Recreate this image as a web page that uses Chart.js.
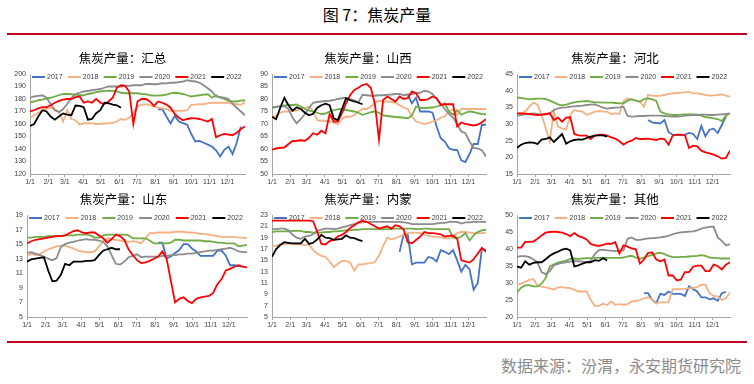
<!DOCTYPE html>
<html>
<head>
<meta charset="utf-8">
<script src="https://cdn.jsdelivr.net/npm/chart.js@4.4.0/dist/chart.umd.min.js"></script>
<style>
  body { margin: 0; width: 754px; height: 384px; background: #fff; position: relative; overflow: hidden; font-family: "Noto Sans CJK SC", sans-serif; }
  #heading { position: absolute; top: 2px; left: 0; width: 754px; text-align: center; font-size: 16px; font-weight: normal; color: #000; }
  .rule { position: absolute; left: 7px; width: 740px; height: 2px; background: #c00020; }
  .panel { position: absolute; }
  #source { position: absolute; right: 13px; top: 353px; font-size: 16px; color: #8c8c8c; }
</style>
</head>
<body>
<div id="heading">图 7：焦炭产量</div>
<div class="rule" style="top:33px"></div>
<canvas id="c1" class="panel" width="250" height="144" style="left:0;top:44px"></canvas>
<canvas id="c2" class="panel" width="250" height="144" style="left:250px;top:44px"></canvas>
<canvas id="c3" class="panel" width="254" height="144" style="left:500px;top:44px"></canvas>
<canvas id="c4" class="panel" width="250" height="145" style="left:0;top:186px"></canvas>
<canvas id="c5" class="panel" width="250" height="145" style="left:250px;top:186px"></canvas>
<canvas id="c6" class="panel" width="254" height="145" style="left:500px;top:186px"></canvas>
<div class="rule" style="top:341px"></div>
<div id="source">数据来源：汾渭，永安期货研究院</div>
<script>
// x axis: weekly points, ticks on the first day of each month
const monthStarts = [0, 31, 59, 90, 120, 151, 181, 212, 243, 273, 304, 334];
const monthLabels = ['1/1', '2/1', '3/1', '4/1', '5/1', '6/1', '7/1', '8/1', '9/1', '10/1', '11/1', '12/1'];
const years = ['2017', '2018', '2019', '2020', '2021', '2022'];
const N = null;

// 汇总
const total2017 = [N,N,N,N,N,N,N,N,N,N,N,N,N,N,N,N,N,N,N,N,N,N,N,N,N,N,N,N,N,N,N,
  171.8,172,166,160.5,166.5,162,160.7,159.5,152,146,146.5,145,143.5,142,139,134,139.4,142,136,145,158,N];
const total2018 = [165,167,169,171,172,173,172,170,162,171,164,163,159.5,160.5,160.7,160.5,160,160,160.4,160.5,
  161,162,164,163.3,165,168.6,174,175.3,175.8,175,174,173,172.6,172,170.5,170.5,170.5,170.5,171,175.3,
  175.5,175.8,176,176.5,177,177,177,177,177,176,175.8,175.3,177.4];
const total2019 = [177.4,178,179,179.5,180.5,181,182,183,184,184,183.8,183.5,183,183,184,184.6,185.5,186,186.5,186.7,
  186.5,186,185,184.6,184.6,184.6,184.6,184,183.8,183,182.7,182.7,183,183.5,184.5,185,184.6,184,183,182,
  182.5,183,183.5,183.8,181,183,181,180,178.5,178,178,178.7,179];
const total2020 = [181,182,182.5,183,181,176,171,169.5,172,176,181,184,185,186,186.5,187,187.5,188,189,190,
  190,190,190,190.5,190.5,191,191,191,192,192,191.8,192,192.6,192.5,193,193,193.5,194,195,194.4,
  194,193,191,188.6,186,182,181.5,181,180,176,173,170,167];
const total2021 = [170,171,172.5,173.5,173.4,175,177,178.5,179.5,180,180,181.5,182,177,178,177,180,177,176,178,
  181,189,191,190.5,186,160,178,180,180,178,174.5,178,177,175.5,173,168,165,163,164,164.6,
  164.5,164,163,162,164,149.5,151,152,151.5,151,153,156,158];
const total2022 = [158.5,160,166,171,170,166,163.5,166,168.5,167.5,167,174.8,174.5,173.4,163.5,164,168.6,171,177,176.6,
  175.5,175,173];

// 山西
const shanxi2017 = [N,N,N,N,N,N,N,N,N,N,N,N,N,N,N,N,N,N,N,N,N,N,N,N,N,N,N,N,N,N,N,N,N,
  81.5,78.3,80.5,75,75,75,74.5,69,64.3,63,60.3,59.7,59.6,55.5,54.8,58,62,62,69.7,69.7];
const shanxi2018 = [72,73.5,74.5,75,75,75.2,75.5,76,76.5,77,75,71.5,71.3,71.3,71,70.5,69.9,72,72.9,72.9,
  73.5,75,76,76,77,78.5,79.3,79,79,78.8,78.5,77.5,76.5,76,73,71,70.5,70,70.3,71,
  71.5,72.5,73,75,76,73.6,76,76,76,76,76,76,76];
const shanxi2019 = [76.3,76.8,77.2,77.4,77.6,77.6,77.8,77,76,75.3,75,74.5,74,74.2,75,75.5,75.9,75.9,75.6,75.3,
  75,74.5,73.7,74.2,74.7,75,74.5,73.4,73.2,73,72.8,72.7,72.5,72.3,73.4,77,76.5,76.3,76.5,76.6,
  77,77.4,78.3,75,73.7,75.6,73.7,74.5,75,74.8,74.3,74,73.9];
const shanxi2020 = [76.7,76.9,77,77.2,76,72.5,70.3,72,74,76.5,78.5,78.8,79,79.2,79.3,79.6,80,80.3,80.5,80,
  79.5,78.7,81.7,81.5,81.3,81.3,81.5,81.5,81.7,81.8,82,82,81.5,81.8,82,82.3,82.5,83.3,83,82,
  80,78.3,76,74,72.5,70,67,66.3,63,60.4,60.2,59.5,57];
const shanxi2021 = [59.7,60.2,60.5,60.6,62,63.2,63.3,63.5,63.3,64.5,66.3,65.7,67.3,66.3,74,71,71,74.3,78.3,81.6,
  83.6,84.5,85.6,86,84.5,78,63.8,79.6,81,80,79,81,80,80.3,83,82.3,79.6,79.6,80,81,
  80.3,77.6,77.9,77.9,77.9,69,70.6,70,69.7,69.4,69.7,70.7,71.9];
const shanxi2022 = [72.9,71.9,76.5,80.5,77.5,75.3,76.7,76,74.5,73.5,74.1,76.5,77.5,78.1,77.5,72.3,71.6,76,80.3,79.5,
  79,78.5,77.9];

// 河北
const hebei2017 = [N,N,N,N,N,N,N,N,N,N,N,N,N,N,N,N,N,N,N,N,N,N,N,N,N,N,N,N,N,N,N,N,
  31.2,30.5,30.3,30.2,31.2,27.6,26.8,26.7,26.7,26.8,27.3,27,25.5,29.4,26.3,28.3,28.6,27.3,29.7,32.2,N];
const hebei2018 = [33.2,33.2,33.7,35.2,36.4,35.8,32.7,28.7,24.8,33.9,29.2,28.7,28.3,32.7,34.2,33.9,33.7,32.7,33.2,33.7,
  33.9,33.7,33.7,32.9,33.2,33,36.9,37.7,37.5,37,36.7,35.2,38.7,38.5,38.4,38.5,38.7,39,39.2,39.3,
  39.4,39.5,39.7,39.2,39.2,39,38.7,38.5,38.6,38.7,38.9,38.5,38.2];
const hebei2019 = [38,37.8,37.6,37.4,37.5,37.6,37.6,37.5,37,36.5,35.9,35.6,35.8,36.2,36.5,36.7,36.8,36.9,36.7,36.5,
  36.5,36.4,36.4,36.4,36.3,36.2,36.2,37,37.4,37,36.7,37.5,37.7,37.4,36.9,33.7,33.2,32.9,32.7,32.7,
  32.8,32.9,32.9,32.9,32.8,32.5,32.1,31.9,31.7,31.5,30.9,32.5,33.2];
const hebei2020 = [32.5,32.7,32.9,33,33.2,33,32.8,32.8,33.2,34.2,34.7,34.9,35,35.2,35.3,35.4,35.5,35.7,35.8,35.9,
  35.4,34.9,34.6,34.8,34.9,35,35.2,32.4,32.2,32.3,32.4,32.4,32.5,32.5,32.5,32.5,32.4,32.3,32.2,32.2,
  32.3,32.5,32.6,32.7,32.7,32.8,32.8,32.7,32.7,32.8,32.9,33,33.2];
const hebei2021 = [33.2,33.2,33.1,33,32.8,32.7,32.8,33,33.2,31.2,31.9,30.7,31.9,32,27,26.6,26.5,26.5,25.5,26.5,
  26.8,26.8,26.5,26,25.6,24.8,23.8,24.6,25,25.8,25.5,25.5,25.6,25.4,25.2,25.6,25.5,23.8,26.5,26.8,
  26.8,26.6,22.8,23.5,23.3,22,21.5,21.2,20.8,20.3,19.6,19.8,22];
const hebei2022 = [22.8,23.8,24.3,24.5,24.4,24,25.3,25.5,26,24.6,25.8,27,24.1,24.8,25.2,25.4,25.3,25.8,26.2,26.5,
  26.6,26.6,26.2];

// 山东
const shandong2017 = [N,N,N,N,N,N,N,N,N,N,N,N,N,N,N,N,N,N,N,N,N,N,N,N,N,N,N,N,N,N,N,
  15.2,15.2,13.1,13.3,13.8,14.2,15,15,14.4,14,13.4,13.4,13.4,13.4,14.1,14.1,13.4,12.1,12.1,12,11.9,N];
const shandong2018 = [13.3,13.7,13.5,13.6,14,14.3,14.5,14.7,14.8,14.8,14.6,14.4,14.1,14,13.9,13.9,14,14.7,15.4,15.8,
  15.7,15.6,15.5,15.4,15.3,15.4,15.3,15.1,15.8,16.5,16.5,16.6,16.6,16.6,16.6,16.7,16.7,16.7,16.6,16.6,
  16.5,16.4,16.4,16.3,16.2,16.1,16,16,16,16,15.9,15.9,15.8];
const shandong2019 = [15.9,15.9,16,16,16,16.1,16.1,16.1,16.1,16.2,16.2,16.2,16.3,16.3,16.3,16.2,15.9,15.9,16.2,16.3,
  16.3,16.3,16.3,16.3,16.2,15.8,15.8,15.8,15.8,15.5,15.1,15.1,15.1,15.1,15.2,15.6,15.6,15.5,15.5,15.5,
  15.5,15.5,15.4,15.4,15.3,15.2,15.2,15.1,15.1,15.1,14.7,14.8,14.9];
const shandong2020 = [13.8,13.9,13.7,13.5,13.3,13,12.8,13.1,14.6,15,15.2,15.3,15.5,15.6,15.7,15.6,15.6,15.5,15.3,14.7,
  13.5,12.3,12.2,12.6,13.2,13.4,13.6,13.2,13.3,13.3,13.3,13.3,13.4,13.4,13.5,13.5,13.6,13.6,13.7,13.7,
  13.8,13.9,14,14.1,14.1,14.2,14.3,14.4,14.5,14.3,14,13.9,13.9];
const shandong2021 = [15.1,15.4,15.6,15.7,15.8,15.9,16,16.1,16.1,16.2,16.5,16.8,16.9,16.6,16.5,16.6,16.6,16.2,15.8,15.2,
  15.7,16.3,16.1,15.6,14.3,13.5,12.8,12.4,12.5,12.7,13,13.3,14,13,10,7,7.5,7.7,7.2,6.9,
  7.5,7.7,7.8,7.9,8.3,9.5,10.2,11.4,11.6,11.9,12.1,11.9,11.8];
const shandong2022 = [12.6,12.9,13,13.1,13.2,11.4,9.9,10,10.8,12.3,12.1,12.6,12.6,12.6,12.7,12.7,12.8,13.5,14.1,14.3,
  14.5,14.3,14.3];

// 内蒙
const neimeng2017 = [N,N,N,N,N,N,N,N,N,N,N,N,N,N,N,N,N,N,N,N,N,N,N,N,N,N,N,N,N,N,N,
  16.5,19.6,19.5,14.3,14.6,14.6,14.6,15.6,15.4,14.8,16.8,16.5,16.1,16.8,15,13,14.2,13.4,9.8,11,17.1,16.8];
const neimeng2018 = [17.5,17.6,17.8,17.9,17.9,17.9,17.8,17.8,17.7,17.8,16.8,16.2,15.8,15.6,14.8,13.8,14.4,14.9,14.9,14.6,
  13.2,14.3,14.3,14.4,14.5,14.7,15.8,17.5,19,18.7,18.9,19.2,19.5,19.8,19.9,19.9,19.8,19.6,19.3,19.2,
  19.2,19.1,18.9,18.9,19.2,19.8,20,20,19.9,19.8,19.8,19.8,19.9];
const neimeng2019 = [20,20.1,20.1,20.1,20.1,20.2,20.2,20.2,20,20,19.9,19.9,19.9,20,20,20.1,20.1,20.2,20.3,20.3,
  20.4,20.4,20.5,20.5,20.5,20.5,20.5,20.5,20.5,20.5,20.6,20.6,20.6,20.6,20.6,20.5,20.5,20.6,20.6,20.5,
  20.5,20.5,20.5,20.5,19,18.9,19.2,19.8,18.5,19.4,20,20.3,20.4];
const neimeng2020 = [20.5,20.5,20.6,20.6,20.3,19.5,19,18.8,19.2,19.3,19.6,20.2,20.4,20.6,20.6,20.5,20.6,20.8,21,21.2,
  21.4,21.6,21.7,21.8,21.8,21.8,21.8,21.8,21.8,21.8,21.8,21.8,21.7,21.6,21.4,21.4,21.4,21.4,21.4,21.4,
  21.5,21.6,21.6,21.8,21.8,21.8,21.5,21.7,21.7,21.8,21.8,21.8,21.8];
const neimeng2021 = [22,22,22,22,22,22,22,22,22,22,21.9,20,17.9,17.8,18.4,18.6,19.2,19.5,20,20.7,
  21.2,21.7,22,21.8,21.4,21,20.6,20.8,21,20.6,21.2,21,20.4,18.2,18,18.6,19.2,20,19.8,19.8,
  19.7,19.6,19.2,19.3,19.4,18.8,15,14.8,14.6,15.2,16.2,17.2,16.5];
const neimeng2022 = [15.6,17,17.7,18.2,18.1,18,18,18,18.8,17.9,18.1,18.7,19.5,19,18.9,18.6,18.7,18.8,19.4,19,
  18.9,18.6,18.4];

// 其他
const other2017 = [N,N,N,N,N,N,N,N,N,N,N,N,N,N,N,N,N,N,N,N,N,N,N,N,N,N,N,N,N,N,N,
  27,27,25,24.1,26.8,26.5,27.5,26.8,26.8,26.8,26.2,29,28.2,27.5,25.8,25.8,25.2,25.5,24.8,27,27.4,N];
const other2018 = [29.6,29.8,30.3,30.9,31.2,29.3,28.9,28.7,28.4,28.1,28.7,28.8,28.6,28.5,28,27.5,27.5,27.5,25,23.3,
  23.3,23.9,23.5,24.6,23.6,23.8,23.6,23.8,24.6,24.7,25,25.5,25.8,25.2,24.1,24.3,24.3,24.3,28.2,28.2,
  28.2,28.3,28.5,28.5,28.8,29.5,29.5,27,26.2,26,25,25.5,27.2];
const other2019 = [27.2,28.6,29.3,29.4,29,29,29.8,31.5,34.8,35.5,36,36.3,36.6,37.1,37.2,37.1,37.2,37.3,37.3,37.4,
  37.4,37.4,37.4,37.4,37.4,37.4,37.5,37.8,38,37.5,37.1,37.5,37.9,38.3,38.7,38.9,38.5,38,37.6,37.6,
  37.7,37.7,37.8,37.9,38,38.2,38,37.5,37.4,37.3,37.2,37.2,37.2];
const other2020 = [37.7,37.9,37.9,37.6,37,36,33.2,32.6,33.5,35.2,35.6,35.9,36.1,36.3,36.4,36.4,36.3,36.1,36.5,38.5,
  39.7,39.8,39.6,39.5,39.4,39.5,39.6,43,43.4,42.7,42.7,42.9,43.1,43.2,43.3,43.4,43.6,43.9,44.3,44.7,
  44.9,45,45.1,45.2,45.5,46,46.3,46.5,46.6,43.4,42.4,41.1,41.4];
const other2021 = [40.4,40.4,42.1,42.1,42.2,43,44,44.8,45,45.1,45,44.8,44.4,43.8,44.7,43.8,43.4,42.8,41.5,41.1,
  40.9,41.2,41.6,41.5,42,38.7,41.1,40.7,40.2,39.9,35.7,36.9,38.9,39,36.9,36.4,36.9,32.2,32.2,30.8,
  31,33.2,33.2,34.8,35.1,35.1,33.5,33.5,35.4,35,34,35.4,36.1];
const other2022 = [34.8,34.5,36.4,35.4,35.9,36.1,36.1,37,38,38.7,39.2,39.8,40.1,39.6,34.9,35.2,35.7,36.1,36.1,36.7,
  36.5,37.3,36.6];

const lineColors = ['#4472c4', '#f4b183', '#70ad47', '#8c8c8c', '#ff0000', '#000000'];
const axisColor = '#a6a6a6';
const tickFont = { family: 'Liberation Sans', size: 7 };

// legend sits inside the plot area, along its top edge
const insideLegend = {
  id: 'insideLegend',
  afterDatasetsDraw(chart) {
    const { ctx, chartArea } = chart;
    const sets = chart.data.datasets;
    const step = (chartArea.right - chartArea.left) / sets.length;
    ctx.save();
    ctx.font = '7px "Liberation Sans"';
    ctx.textBaseline = 'middle';
    sets.forEach((ds, i) => {
      const x = chartArea.left + 2 + i * step;
      const y = chartArea.top + 3;
      ctx.strokeStyle = ds.borderColor;
      ctx.lineWidth = 2;
      ctx.beginPath();
      ctx.moveTo(x, y);
      ctx.lineTo(x + 13, y);
      ctx.stroke();
      ctx.fillStyle = '#404040';
      ctx.fillText(ds.label, x + 15, y);
    });
    ctx.restore();
  }
};

function drawPanel(id, title, series, yMin, yMax, yStep, yWidth, padRight, titleTop) {
  new Chart(document.getElementById(id), {
    type: 'line',
    data: {
      datasets: years.map((yr, i) => ({
        label: yr,
        data: series[i].map((v, w) => ({ x: w * 7, y: v })),
        borderColor: lineColors[i],
        borderWidth: 1.8,
        pointRadius: 0,
        tension: 0,
        spanGaps: false,
        order: 5 - i
      }))
    },
    options: {
      responsive: false,
      animation: false,
      layout: { autoPadding: false, padding: { left: 0, right: padRight, top: 0, bottom: 0 } },
      plugins: {
        legend: { display: false },
        tooltip: { enabled: false },
        title: {
          display: true,
          text: title,
          color: '#000',
          font: { family: 'Noto Sans CJK SC', size: 12.5, weight: 'normal' },
          padding: { top: titleTop, bottom: 8 }
        }
      },
      scales: {
        x: {
          type: 'linear',
          min: 0,
          max: 364,
          afterBuildTicks: s => { s.ticks = monthStarts.map(v => ({ value: v })); },
          afterFit: s => { s.height = 14; },
          grid: { drawOnChartArea: false, drawTicks: true, tickLength: 3, color: axisColor },
          border: { color: axisColor },
          ticks: {
            autoSkip: false, maxRotation: 0, padding: 1, font: tickFont, color: '#404040',
            callback: v => monthLabels[monthStarts.indexOf(v)]
          }
        },
        y: {
          min: yMin,
          max: yMax,
          afterFit: s => { s.width = yWidth; },
          grid: { display: false, drawTicks: false },
          border: { display: true, color: axisColor },
          ticks: { stepSize: yStep, autoSkip: false, padding: 4, font: tickFont, color: '#404040' }
        }
      }
    },
    plugins: [insideLegend]
  });
}

drawPanel('c1', '焦炭产量：汇总', [total2017, total2018, total2019, total2020, total2021, total2022], 120, 200, 10, 30, 5, 7);
drawPanel('c2', '焦炭产量：山西', [shanxi2017, shanxi2018, shanxi2019, shanxi2020, shanxi2021, shanxi2022], 50, 90, 5, 22, 14, 7);
drawPanel('c3', '焦炭产量：河北', [hebei2017, hebei2018, hebei2019, hebei2020, hebei2021, hebei2022], 15, 45, 5, 17, 24, 7);
drawPanel('c4', '焦炭产量：山东', [shandong2017, shandong2018, shandong2019, shandong2020, shandong2021, shandong2022], 5, 19, 2, 27, 3, 6);
drawPanel('c5', '焦炭产量：内蒙', [neimeng2017, neimeng2018, neimeng2019, neimeng2020, neimeng2021, neimeng2022], 5, 23, 2, 22, 14, 6);
drawPanel('c6', '焦炭产量：其他', [other2017, other2018, other2019, other2020, other2021, other2022], 20, 50, 5, 17, 24, 6);
</script>
</body>
</html>
